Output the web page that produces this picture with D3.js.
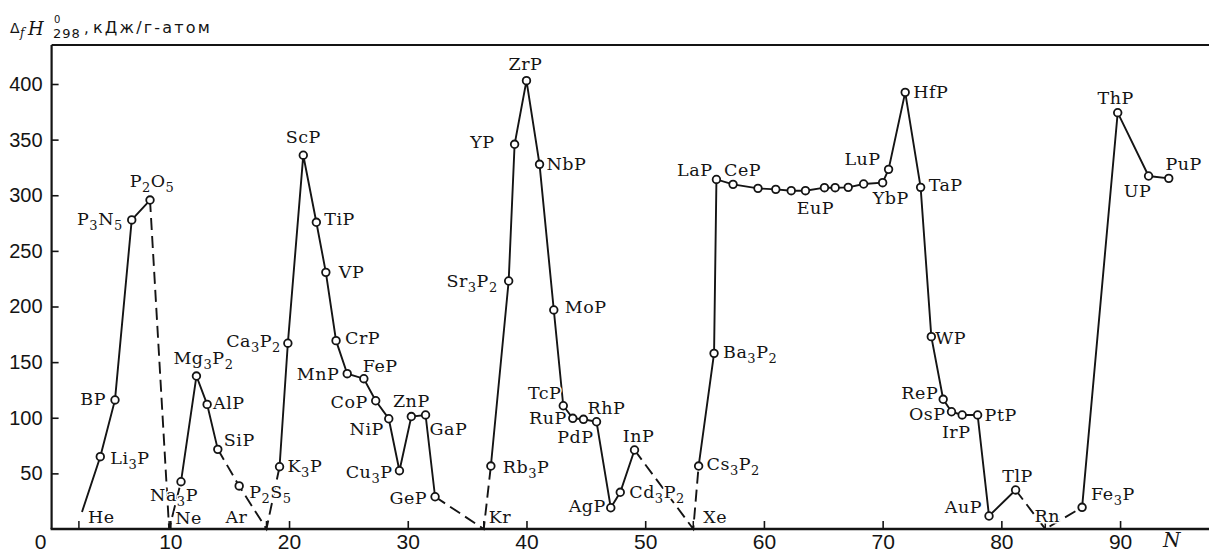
<!DOCTYPE html>
<html><head><meta charset="utf-8">
<script src="https://cdn.jsdelivr.net/npm/d3@7"></script>
<style>
body{margin:0;background:#fff;}
svg{display:block;}
</style>
</head><body>
<script>
// ---------------- data ----------------
const compounds = ["Li3P","BP","P3N5","P2O5","Na3P","Mg3P2","AlP","SiP","P2S5","K3P","Ca3P2",
  "ScP","TiP","VP","CrP","MnP","FeP","CoP","NiP","Cu3P","ZnP","GaP","GeP",
  "Rb3P","Sr3P2","YP","ZrP","NbP","MoP","TcP","RuP","PdP","RhP","AgP","Cd3P2","InP",
  "Cs3P2","Ba3P2","LaP","CeP","ln3","ln4","ln5","EuP","ln7","ln8","ln9","ln10","YbP","LuP",
  "HfP","TaP","WP","ReP","OsP","IrP","PtP","AuP","TlP","Fe3P","ThP","UP","PuP"];
const atomicN = [4.1,5.34,6.75,8.29,10.9,12.2,13.1,14.0,15.8,19.2,19.9,
  21.2,22.3,23.1,23.96,24.9,26.3,27.3,28.4,29.3,30.3,31.5,32.3,
  37.0,38.5,39.0,40.0,41.1,42.3,43.1,43.9,44.8,45.9,47.1,47.9,49.1,
  54.5,55.8,56.0,57.4,59.5,61.0,62.3,63.5,65.1,66.0,67.1,68.4,70.0,70.5,
  71.9,73.2,74.1,75.1,75.8,76.7,78.0,78.96,81.2,86.8,89.8,92.4,94.1];
const enthalpy = [65,116,277.8,295.7,42.5,137.5,112,71.6,38.7,56,167,
  336,275.7,230.7,169.3,139.6,135.1,115.3,99.1,52.4,101.1,102.5,29,
  56.6,222.9,345.8,403,327.8,196.9,110.8,99.5,98.6,96.4,19.1,33,71,
  56.6,157.9,314.2,309.8,306.2,305.3,304.1,304.1,306.8,306.8,307.1,310.1,311.3,323.3,
  392.5,307.1,172.9,116.6,105.4,102.5,102.5,11.7,35.1,19.5,374.2,317.3,315.2];
const nobleGases = ["He","Ne","Ar","Kr","Xe","Rn"];
const nobleN = [2.3,9.9,18.1,36.4,54.05,83.7];
const heLineStartN = 2.56, heLineStartV = 15.3;

const solidChains = [
  ["heStart","Li3P","BP","P3N5","P2O5"],
  ["Na3P","Mg3P2","AlP","SiP"],
  ["K3P","Ca3P2","ScP","TiP","VP","CrP","MnP","FeP","CoP","NiP","Cu3P","ZnP","GaP","GeP"],
  ["Rb3P","Sr3P2","YP","ZrP","NbP","MoP","TcP","RuP","PdP","RhP","AgP","Cd3P2","InP"],
  ["Cs3P2","Ba3P2","LaP","CeP","ln3","ln4","ln5","EuP","ln7","ln8","ln9","ln10","YbP","LuP",
   "HfP","TaP","WP","ReP","OsP","IrP","PtP","AuP","TlP"],
  ["Fe3P","ThP","UP","PuP"]
];
const dashedChains = [
  ["P2O5","Ne","Na3P"],
  ["SiP","P2S5","Ar","K3P"],
  ["GeP","Kr","Rb3P"],
  ["InP","Xe","Cs3P2"],
  ["TlP","Rn","Fe3P"]
];
const xTicks = [0,10,20,30,40,50,60,70,80,90];
const yTicks = [50,100,150,200,250,300,350,400];

// ---------------- layout (label placement: anchor, dx, dy) ----------------
const labelLayout = {
  Li3P:["start",10,7], BP:["end",-9,5], P3N5:["end",-9,5], P2O5:["middle",2,-13],
  Na3P:["middle",-7,19], Mg3P2:["middle",7,-12], AlP:["start",6,5], SiP:["start",6,-3],
  P2S5:["start",10,12], K3P:["start",8,5], Ca3P2:["end",-7,4],
  ScP:["middle",0,-12], TiP:["start",8,3], VP:["start",13,6], CrP:["start",9,3],
  MnP:["end",-8,6], FeP:["start",-1,-7], CoP:["end",-8,7], NiP:["end",-5,16],
  Cu3P:["end",-7,7], ZnP:["middle",0,-10], GaP:["start",4,20], GeP:["end",-8,7],
  Rb3P:["start",12,7], Sr3P2:["end",-11,6], YP:["end",-20,4], ZrP:["middle",-1,-11],
  NbP:["start",7,6], MoP:["start",11,3], TcP:["end",-2,-7], RuP:["end",-6,6],
  PdP:["middle",-8,24], RhP:["start",-9,-8], AgP:["end",-5,4], Cd3P2:["start",9,6],
  InP:["middle",4,-8], Cs3P2:["start",8,4], Ba3P2:["start",9,5], LaP:["end",-4,-3],
  CeP:["start",-9,-8], EuP:["middle",10,23], YbP:["start",-10,21], LuP:["end",-8,-4],
  HfP:["start",8,6], TaP:["start",8,4], WP:["start",4,7], ReP:["end",-5,0],
  OsP:["end",-6,8], IrP:["middle",-6,23], PtP:["start",7,6], AuP:["end",-7,-3],
  TlP:["middle",2,-8], Fe3P:["start",9,-7], ThP:["middle",-2,-9], UP:["middle",-11,21],
  PuP:["middle",15,-8],
  He:["start",9,-6], Ne:["start",6,-5], Ar:["end",-19,-6], Kr:["start",5,-6],
  Xe:["start",10,-6], Rn:["middle",2,-7]
};

// ---------------- drawing ----------------
(function () {
const W = 1209, H = 553;
const svg = d3.select("body").append("svg").attr("width", W).attr("height", H)
  .style("background", "#fff");

const x = d3.scaleLinear().domain([0, 100]).range([51.6, 51.6 + 1187.2]);
const y = d3.scaleLinear().domain([0, 400]).range([529, 84]);
const ink = "#141414";

const pts = {};
compounds.forEach((c, i) => pts[c] = {N: atomicN[i], v: enthalpy[i]});
nobleGases.forEach((g, i) => pts[g] = {N: nobleN[i], v: 0});
pts.heStart = {N: heLineStartN, v: heLineStartV};

const line = d3.line().x(d => x(pts[d].N)).y(d => y(pts[d].v));

// frame
const yTop = y.invert(45);
svg.append("line").attr("x1", x(0)).attr("x2", W).attr("y1", y(yTop)).attr("y2", y(yTop))
  .attr("stroke", ink).attr("stroke-width", 2);
svg.append("line").attr("x1", x(0)).attr("x2", x(0)).attr("y1", y(yTop)).attr("y2", y(0))
  .attr("stroke", ink).attr("stroke-width", 2.2);
svg.append("line").attr("x1", x(0) - 1).attr("x2", W).attr("y1", y(0)).attr("y2", y(0))
  .attr("stroke", ink).attr("stroke-width", 2.4);

// axes
const gy = svg.append("g").attr("transform", `translate(${x(0)},0)`)
  .call(d3.axisLeft(y).tickValues(yTicks).tickSize(-7).tickPadding(9));
gy.select(".domain").remove();
gy.selectAll("line").attr("stroke", ink).attr("stroke-width", 1.6);
gy.selectAll("text").attr("fill", ink).style("font-family", "'Liberation Sans', Arial, sans-serif")
  .style("font-size", "20px");

const gx = svg.append("g").attr("transform", `translate(0,${y(0)})`)
  .call(d3.axisBottom(x).tickValues(xTicks).tickSize(-8).tickPadding(5));
gx.select(".domain").remove();
gx.selectAll("line").attr("stroke", ink).attr("stroke-width", 1.6);
gx.selectAll(".tick").filter(d => d === 0).select("line").remove();
gx.selectAll("text").attr("fill", ink).style("font-family", "'Liberation Sans', Arial, sans-serif")
  .style("font-size", "21px");
gx.selectAll(".tick").filter(d => d === 0).select("text").attr("dx", -11.6);

// noble-gas ticks
svg.append("g").selectAll("line").data(nobleGases).join("line")
  .attr("x1", d => x(pts[d].N)).attr("x2", d => x(pts[d].N))
  .attr("y1", y(0)).attr("y2", y(0) - 8)
  .attr("stroke", ink).attr("stroke-width", 1.5);

// lines
svg.append("g").selectAll("path").data(solidChains).join("path")
  .attr("d", line).attr("fill", "none").attr("stroke", ink).attr("stroke-width", 1.9);
svg.append("g").selectAll("path").data(dashedChains).join("path")
  .attr("d", line).attr("fill", "none").attr("stroke", ink).attr("stroke-width", 1.9)
  .attr("stroke-dasharray", "12,6");

// labels
function formula(sel, txt) {
  const parts = txt.split(/(\d+)/).filter(s => s.length);
  let low = false;
  parts.forEach(p => {
    const isNum = /^\d+$/.test(p);
    const t = sel.append("tspan").text(p);
    if (isNum) { t.style("font-size", "13px").attr("dy", low ? 0 : 5); low = true; }
    else { if (low) t.attr("dy", -5); low = false; }
  });
}
const labelNames = Object.keys(labelLayout);
const lg = svg.append("g")
  .style("font-family", "'DejaVu Serif', 'Liberation Serif', serif")
  .style("font-size", "17.5px")
  .attr("fill", ink)
  .attr("stroke", "#fff").attr("stroke-width", 3).attr("stroke-linejoin", "round")
  .style("paint-order", "stroke");
labelNames.forEach(n => {
  const [anchor, dx, dy] = labelLayout[n];
  const p = pts[n];
  const t = lg.append("text").attr("x", x(p.N) + dx).attr("y", y(p.v) + dy)
    .attr("text-anchor", anchor).style("letter-spacing", "0.5px");
  formula(t, n);
});

// points
svg.append("g").selectAll("circle").data(compounds).join("circle")
  .attr("cx", d => x(pts[d].N)).attr("cy", d => y(pts[d].v)).attr("r", 3.8)
  .attr("fill", "#fff").attr("stroke", ink).attr("stroke-width", 1.8);

// axis titles
const tt = svg.append("g").attr("fill", ink);
tt.append("text").attr("x", 10).attr("y", 33).text("Δ")
  .style("font-family", "'DejaVu Sans', sans-serif").style("font-size", "14px");
tt.append("text").attr("x", 20).attr("y", 37).text("f")
  .style("font-family", "'DejaVu Serif', serif").style("font-style", "italic").style("font-size", "12px");
tt.append("text").attr("x", 28).attr("y", 34.5).text("H")
  .style("font-family", "'DejaVu Serif', serif").style("font-style", "italic").style("font-size", "18px");
tt.append("text").attr("x", 54).attr("y", 23).text("0")
  .style("font-family", "'DejaVu Sans', sans-serif").style("font-size", "10px");
tt.append("text").attr("x", 53).attr("y", 38).text("298")
  .style("font-family", "'DejaVu Sans', sans-serif").style("font-size", "13px")
  .style("letter-spacing", "1px");
tt.append("text").attr("x", 84).attr("y", 33).text(",")
  .style("font-family", "'DejaVu Sans', sans-serif").style("font-size", "15px");
tt.append("text").attr("x", 93).attr("y", 33).text("кДж/г-атом")
  .style("font-family", "'DejaVu Sans', sans-serif").style("font-size", "16px")
  .style("letter-spacing", "2.2px");
tt.append("text").attr("x", 1163).attr("y", 547).text("N")
  .style("font-family", "'DejaVu Serif', serif").style("font-style", "italic").style("font-size", "20px");
})();
</script>
</body></html>
